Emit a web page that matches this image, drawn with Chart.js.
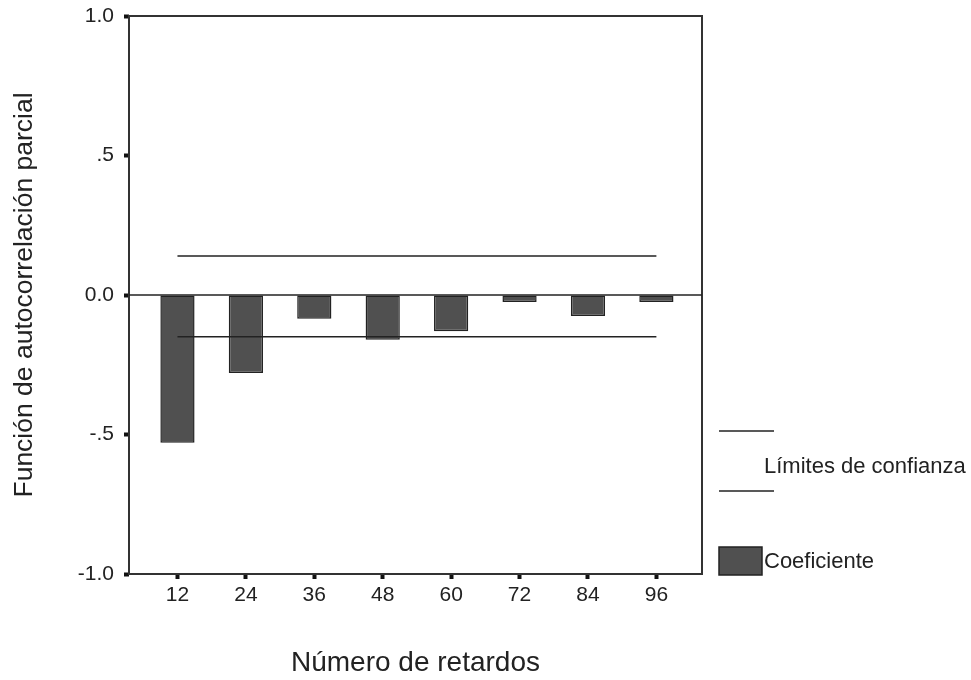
<!DOCTYPE html>
<html>
<head>
<meta charset="utf-8">
<script src="https://cdn.jsdelivr.net/npm/chart.js@4.4.0/dist/chart.umd.min.js"></script>
<style>
  html, body { margin: 0; padding: 0; background: #fff; }
  #wrap { width: 971px; height: 680px; }
</style>
</head>
<body>
<div id="wrap"><canvas id="pacf"></canvas></div>
<script>
// datos
var lags = [12, 24, 36, 48, 60, 72, 84, 96];
var coeficiente = [-0.53, -0.28, -0.085, -0.16, -0.13, -0.025, -0.075, -0.025];
var limiteSuperior = [0.14, 0.14, 0.14, 0.14, 0.14, 0.14, 0.14, 0.14];
var limiteInferior = [-0.15, -0.15, -0.15, -0.15, -0.15, -0.15, -0.15, -0.15];
var yTicks = [-1, -0.5, 0, 0.5, 1];
var yTickLabels = ['-1.0', '-.5', '0.0', '.5', '1.0'];

var fuente = '"Liberation Sans", Arial, sans-serif';
var tinta = '#222';

function puntos(vals) {
    return vals.map(function (v, i) { return { x: lags[i], y: v }; });
}

// marco del area y linea de cero
var marco = {
    id: 'marco',
    afterDatasetsDraw: function (chart) {
        var a = chart.chartArea, ctx = chart.ctx;
        var y0 = chart.scales.y.getPixelForValue(0);
        ctx.save();
        ctx.strokeStyle = '#333';
        ctx.lineWidth = 2;
        ctx.strokeRect(a.left, a.top, a.right - a.left, a.bottom - a.top);
        ctx.strokeStyle = tinta;
        ctx.lineWidth = 1.5;
        ctx.beginPath();
        ctx.moveTo(a.left, y0);
        ctx.lineTo(a.right, y0);
        ctx.stroke();
        ctx.restore();
    }
};

// leyenda a la derecha, como en el original
var leyenda = {
    id: 'leyenda',
    afterDraw: function (chart) {
        var ctx = chart.ctx;
        var coef = chart.data.datasets[0];
        var lim = chart.data.datasets[1];
        var x0 = chart.chartArea.right + 17;
        ctx.save();
        ctx.strokeStyle = lim.borderColor;
        ctx.lineWidth = 1.5;
        [431, 491].forEach(function (y) {
            ctx.beginPath();
            ctx.moveTo(x0, y);
            ctx.lineTo(x0 + 55, y);
            ctx.stroke();
        });
        ctx.font = '22px ' + fuente;
        ctx.fillStyle = tinta;
        ctx.textBaseline = 'middle';
        ctx.fillText(lim.label, x0 + 45, 467);
        ctx.fillStyle = coef.backgroundColor;
        ctx.fillRect(x0, 547, 43, 28);
        ctx.strokeStyle = coef.borderColor;
        ctx.strokeRect(x0, 547, 43, 28);
        ctx.fillStyle = tinta;
        ctx.fillText(coef.label, x0 + 45, 562);
        ctx.restore();
    }
};

var ctx = document.getElementById('pacf').getContext('2d');
var grafico = new Chart(ctx, {
    type: 'bar',
    data: {
        datasets: [{
            label: 'Coeficiente',
            data: puntos(coeficiente),
            backgroundColor: '#505050',
            borderColor: '#222',
            borderWidth: 1.5,
            borderSkipped: false,
            barPercentage: 0.5,
            categoryPercentage: 1,
            order: 2
        }, {
            type: 'line',
            label: 'Límites de confianza',
            data: puntos(limiteSuperior),
            borderColor: '#222',
            borderWidth: 1.5,
            pointRadius: 0,
            fill: false,
            order: 1
        }, {
            type: 'line',
            label: 'Límites de confianza',
            data: puntos(limiteInferior),
            borderColor: '#222',
            borderWidth: 1.5,
            pointRadius: 0,
            fill: false,
            order: 1
        }]
    },
    options: {
        responsive: true,
        maintainAspectRatio: false,
        animation: false,
        layout: { padding: { top: 16, right: 269, bottom: 0, left: 0 } },
        plugins: {
            legend: { display: false },
            tooltip: { enabled: false }
        },
        scales: {
            x: {
                type: 'linear',
                min: 3.5,
                max: 104,
                offset: false,
                afterBuildTicks: function (s) {
                    s.ticks = lags.map(function (v) { return { value: v }; });
                },
                afterFit: function (s) { s.height = 106; },
                ticks: {
                    color: tinta,
                    padding: 4,
                    font: { family: fuente, size: 21 },
                    callback: function (v) { return String(v); }
                },
                grid: {
                    offset: false,
                    drawOnChartArea: false,
                    drawTicks: true,
                    tickLength: 5,
                    tickWidth: 4,
                    tickColor: '#111'
                },
                border: { display: false },
                title: {
                    display: true,
                    text: 'Número de retardos',
                    color: tinta,
                    font: { family: fuente, size: 28 },
                    padding: { top: 0, bottom: 0 }
                }
            },
            y: {
                min: -1,
                max: 1,
                afterBuildTicks: function (s) {
                    s.ticks = yTicks.map(function (v) { return { value: v }; });
                },
                afterFit: function (s) {
                    s.width = 129;
                    s.paddingTop = 0;
                    s.paddingBottom = 0;
                },
                ticks: {
                    color: tinta,
                    padding: 10,
                    font: { family: fuente, size: 21 },
                    callback: function (v) {
                        var i = yTicks.indexOf(v);
                        return i >= 0 ? yTickLabels[i] : '';
                    }
                },
                grid: {
                    drawOnChartArea: false,
                    drawTicks: true,
                    tickLength: 5,
                    tickWidth: 4,
                    tickColor: '#111'
                },
                border: { display: false },
                title: {
                    display: true,
                    text: 'Función de autocorrelación parcial',
                    color: tinta,
                    font: { family: fuente, size: 26.5 },
                    padding: { top: 9, bottom: 0 }
                }
            }
        }
    },
    plugins: [marco, leyenda]
});
</script>
</body>
</html>
